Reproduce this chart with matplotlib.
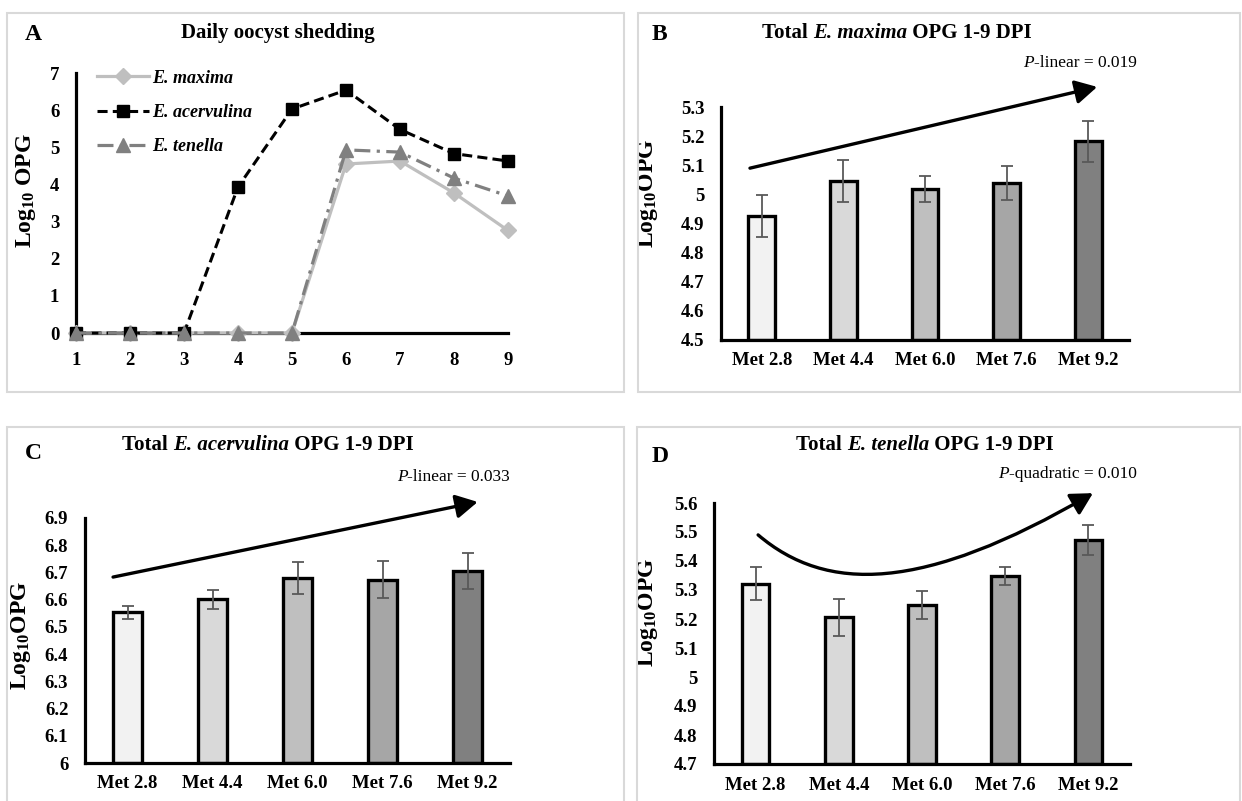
import matplotlib
matplotlib.use("Agg")
import matplotlib.pyplot as plt
from matplotlib.patches import Rectangle, FancyArrowPatch
from matplotlib.path import Path

plt.rcParams['font.family'] = ['Liberation Serif', 'DejaVu Serif']
plt.rcParams['mathtext.fontset'] = 'custom'
plt.rcParams['mathtext.rm'] = 'Liberation Serif:bold'
plt.rcParams['mathtext.it'] = 'Liberation Serif:bold:italic'
plt.rcParams['mathtext.bf'] = 'Liberation Serif:bold'

# ---------------- data ----------------
days = [1, 2, 3, 4, 5, 6, 7, 8, 9]
maxima_daily = [0, 0, 0, 0, 0, 4.55, 4.63, 3.77, 2.76]
acervulina_daily = [0, 0, 0, 3.93, 6.03, 6.54, 5.48, 4.83, 4.63]
tenella_daily = [0, 0, 0, 0, 0, 4.93, 4.87, 4.17, 3.69]

treatments = ['Met 2.8', 'Met 4.4', 'Met 6.0', 'Met 7.6', 'Met 9.2']
maxima_total = [4.925, 5.045, 5.018, 5.038, 5.182]
maxima_err = [0.073, 0.072, 0.045, 0.058, 0.070]
acervulina_total = [6.554, 6.602, 6.679, 6.673, 6.705]
acervulina_err = [0.024, 0.035, 0.059, 0.068, 0.066]
tenella_total = [5.321, 5.206, 5.247, 5.347, 5.472]
tenella_err = [0.057, 0.063, 0.048, 0.031, 0.052]

bar_colors = ['#F2F2F2', '#D9D9D9', '#BFBFBF', '#A6A6A6', '#808080']

W, H = 1242, 801
fig = plt.figure(figsize=(W / 100, H / 100), dpi=100)
renderer = fig.canvas.get_renderer()


def rect(l, t, r, b):
    return [l / W, 1 - b / H, (r - l) / W, (b - t) / H]


# panel frames
for (l, t, r, b) in [(7, 13, 624, 392), (638, 13, 1240, 392),
                     (7, 427, 624, 810), (637, 427, 1240, 810)]:
    fig.add_artist(Rectangle((l / W, 1 - b / H), (r - l) / W, (b - t) / H,
                             transform=fig.transFigure, fill=False,
                             edgecolor='#D9D9D9', lw=1.5))

TICK_FS = 13.5
TITLE_FS = 15
LETTER_FS = 17
YLAB_FS = 17
P_FS = 12.5
ARROW = dict(arrowstyle='-|>,head_length=0.55,head_width=0.3', mutation_scale=24,
             lw=2.4, color='black')


def mixed_text(xc, yc, pieces, size, align='center'):
    """pieces: list of (string, style, weight). Placed on one baseline."""
    texts = []
    widths = []
    for s, st, wt in pieces:
        t = fig.text(0, 0, s, fontsize=size, style=st, fontweight=wt,
                     ha='left', va='baseline')
        widths.append(t.get_window_extent(renderer).width)
        texts.append(t)
    total = sum(widths)
    x0 = xc - total / 2 if align == 'center' else xc - total
    x = x0
    for t, w in zip(texts, widths):
        t.set_position((x / W, 1 - yc / H))
        x += w
    return texts


def style_axes(ax):
    for s in ['top', 'right']:
        ax.spines[s].set_visible(False)
    for s in ['left', 'bottom']:
        ax.spines[s].set_linewidth(2.3)
        ax.spines[s].set_color('black')
    ax.tick_params(length=0, labelsize=TICK_FS)
    for lab in ax.get_xticklabels() + ax.get_yticklabels():
        lab.set_fontweight('bold')
    ax.patch.set_alpha(0)


# ---------------- Panel A ----------------
axA = fig.add_axes(rect(76, 73, 508, 333))
axA.plot(days, maxima_daily, color='#BFBFBF', lw=2.3, marker='D', ms=8,
         label='E. maxima', clip_on=False, zorder=3)
axA.plot(days, acervulina_daily, color='black', lw=2.2, ls=(0, (3.3, 1.7)),
         marker='s', ms=9, label='E. acervulina', clip_on=False, zorder=4)
axA.plot(days, tenella_daily, color='#808080', lw=2.3, ls=(0, (5, 2, 1, 2)),
         marker='^', ms=10, label='E. tenella', clip_on=False, zorder=5)
axA.set_xlim(1, 9)
axA.set_ylim(0, 7)
axA.set_xticks(days)
axA.set_yticks(range(0, 8))
style_axes(axA)
axA.tick_params(axis='x', pad=14)
axA.tick_params(axis='y', pad=12)
axA.set_ylabel(r'Log$_{10}$ OPG', fontsize=YLAB_FS, fontweight='bold')
axA.yaxis.set_label_coords(-0.088, 0.55)
leg = axA.legend(loc='upper left', bbox_to_anchor=(0.01, 1.075), frameon=False,
                 prop=dict(family='Liberation Serif', style='italic', weight='bold', size=13),
                 handlelength=2.9, labelspacing=0.95, handletextpad=0.2)
mixed_text(278, 38, [('Daily oocyst shedding', 'normal', 'bold')], TITLE_FS)
fig.text(33 / W, 1 - 34 / H, 'A', ha='center', va='center', fontsize=LETTER_FS,
         fontweight='bold')


def bar_panel(ax, vals, errs, ylim, yticks, yticklabels):
    x = list(range(len(treatments)))
    ax.bar(x, [v - ylim[0] for v in vals], bottom=ylim[0], width=0.33,
           color=bar_colors, edgecolor='black', linewidth=2.4, zorder=2)
    ax.errorbar(x, vals, yerr=errs, fmt='none', ecolor='#595959', elinewidth=1.3,
                capsize=4, capthick=1.3, zorder=3)
    ax.set_xlim(-0.5, len(treatments) - 0.5)
    ax.set_ylim(*ylim)
    ax.set_xticks(x)
    ax.set_xticklabels(treatments)
    ax.set_yticks(yticks)
    ax.set_yticklabels(yticklabels)
    style_axes(ax)
    ax.tick_params(axis='x', pad=9)
    ax.tick_params(axis='y', pad=12)
    ax.set_ylabel(r'Log$_{10}$OPG', fontsize=YLAB_FS, fontweight='bold')


def title_pieces(species):
    return [('Total ', 'normal', 'bold'), (species, 'italic', 'bold'),
            (' OPG 1-9 DPI', 'normal', 'bold')]


def p_pieces(rest):
    return [('P', 'italic', 'normal'), (rest, 'normal', 'normal')]


# ---------------- Panel B ----------------
axB = fig.add_axes(rect(721, 107, 1129, 340))
b_ticks = [4.5, 4.6, 4.7, 4.8, 4.9, 5.0, 5.1, 5.2, 5.3]
bar_panel(axB, maxima_total, maxima_err, (4.5, 5.3), b_ticks,
          ['4.5', '4.6', '4.7', '4.8', '4.9', '5', '5.1', '5.2', '5.3'])
axB.yaxis.set_label_coords(-0.15, 0.63)
axB.annotate('', xy=(4.11, 5.369), xytext=(-0.145, 5.09), annotation_clip=False,
             arrowprops=dict(ARROW, shrinkA=0, shrinkB=0))
mixed_text(897, 38, title_pieces('E. maxima'), TITLE_FS)
fig.text(659 / W, 1 - 34 / H, 'B', ha='center', va='center', fontsize=LETTER_FS,
         fontweight='bold')

# ---------------- Panel C ----------------
axC = fig.add_axes(rect(85, 518, 510, 763))
c_ticks = [6.0, 6.1, 6.2, 6.3, 6.4, 6.5, 6.6, 6.7, 6.8, 6.9]
bar_panel(axC, acervulina_total, acervulina_err, (6.0, 6.9), c_ticks,
          ['6', '6.1', '6.2', '6.3', '6.4', '6.5', '6.6', '6.7', '6.8', '6.9'])
axC.yaxis.set_label_coords(-0.122, 0.52)
axC.annotate('', xy=(4.12, 6.959), xytext=(-0.17, 6.683), annotation_clip=False,
             arrowprops=dict(ARROW, shrinkA=0, shrinkB=0))
mixed_text(268, 450, title_pieces('E. acervulina'), TITLE_FS)
fig.text(33 / W, 1 - 453 / H, 'C', ha='center', va='center', fontsize=LETTER_FS,
         fontweight='bold')

# ---------------- Panel D ----------------
axD = fig.add_axes(rect(714, 503, 1130, 764))
d_ticks = [4.7, 4.8, 4.9, 5.0, 5.1, 5.2, 5.3, 5.4, 5.5, 5.6]
bar_panel(axD, tenella_total, tenella_err, (4.7, 5.6), d_ticks,
          ['4.7', '4.8', '4.9', '5', '5.1', '5.2', '5.3', '5.4', '5.5', '5.6'])
axD.yaxis.set_label_coords(-0.13, 0.58)
curve = Path([(0.03, 5.49), (0.85, 5.29), (2.0, 5.29), (4.055, 5.634)],
             [Path.MOVETO, Path.CURVE4, Path.CURVE4, Path.CURVE4])
arr = FancyArrowPatch(path=curve, clip_on=False, **ARROW)
axD.add_patch(arr)
mixed_text(925, 450, title_pieces('E. tenella'), TITLE_FS)
fig.text(660 / W, 1 - 457 / H, 'D', ha='center', va='center', fontsize=LETTER_FS,
         fontweight='bold')

# p-value annotations (right aligned)
mixed_text(1137, 67, p_pieces('-linear = 0.019'), P_FS, align='right')
mixed_text(510, 481, p_pieces('-linear = 0.033'), P_FS, align='right')
mixed_text(1137, 478, p_pieces('-quadratic = 0.010'), P_FS, align='right')

fig.savefig('out.png', dpi=100)
